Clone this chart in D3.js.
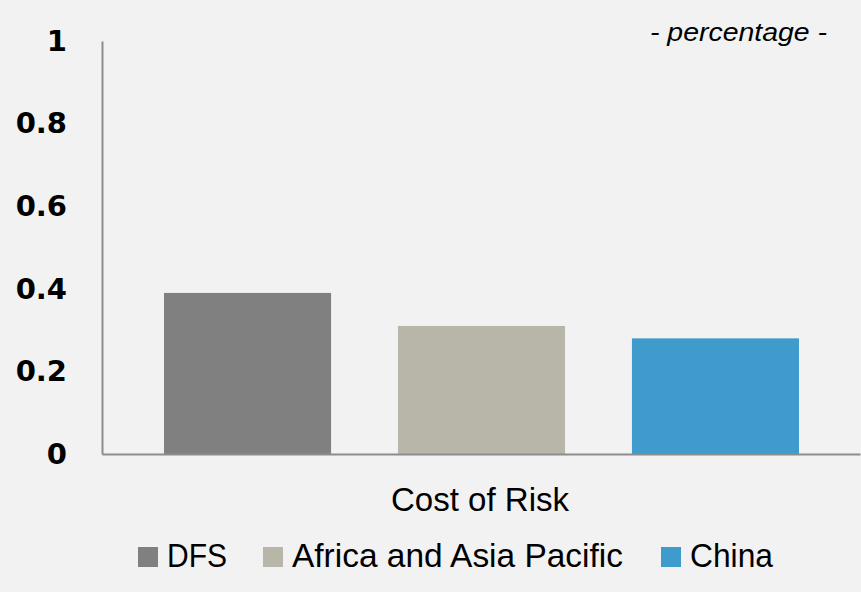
<!DOCTYPE html>
<html>
<head>
<meta charset="utf-8">
<title>Cost of Risk</title>
<style>
  body { margin: 0; background: #f2f2f2; }
  svg { display: block; }
</style>
</head>
<body>
<script src="https://d3js.org/d3.v7.min.js"></script>
<script>
// data
const categories = ['Cost of Risk'];
const series = ['DFS', 'Africa and Asia Pacific', 'China'];
const values = [0.39, 0.31, 0.28];
const colors = ['#808080', '#b8b6a9', '#3f9bcb'];
const yTicks = [0, 0.2, 0.4, 0.6, 0.8, 1];

const W = 861, H = 592;
const margin = {top: 41, right: 1, bottom: 138, left: 102};
const width = W - margin.left - margin.right;
const height = H - margin.top - margin.bottom;
const sans = '"Liberation Sans", Arial, sans-serif';

const svg = d3.select('body').append('svg').attr('width', W).attr('height', H);
svg.append('rect').attr('width', W).attr('height', H).attr('fill', '#f2f2f2');

const g = svg.append('g').attr('transform', `translate(${margin.left},${margin.top})`);

const x0 = d3.scaleBand().domain(categories).range([0, width]);
const x1 = d3.scaleBand().domain(series).range([62, 697]).paddingInner(0.286).paddingOuter(0);
const y = d3.scaleLinear().domain([0, 1]).range([height, 0]);

// bars
g.selectAll('rect.bar').data(series).enter().append('rect')
  .attr('class', 'bar')
  .attr('x', d => x0(categories[0]) + x1(d))
  .attr('width', x1.bandwidth())
  .attr('y', (d, i) => y(values[i]))
  .attr('height', (d, i) => height - y(values[i]))
  .attr('fill', (d, i) => colors[i]);

// y axis
const yAxis = g.append('g').call(d3.axisLeft(y).tickValues(yTicks).tickSize(0).tickPadding(35).tickFormat(d => d));
yAxis.select('.domain').attr('stroke', '#8c8c8c').attr('stroke-width', 2);
yAxis.selectAll('text')
  .attr('font-family', '"DejaVu Sans", sans-serif')
  .attr('font-weight', 'bold')
  .attr('font-size', 29)
  .attr('fill', '#000');

// x axis
const xAxis = g.append('g').attr('transform', `translate(0,${height})`)
  .call(d3.axisBottom(x0).tickSize(0).tickPadding(0));
xAxis.select('.domain').attr('stroke', '#8c8c8c').attr('stroke-width', 2);
xAxis.selectAll('text')
  .attr('x', -1)
  .attr('y', 57)
  .attr('dy', 0)
  .attr('font-family', sans)
  .attr('font-size', 34)
  .attr('textLength', 178)
  .attr('lengthAdjust', 'spacingAndGlyphs')
  .attr('fill', '#000');

// unit note
svg.append('text')
  .attr('x', 650).attr('y', 41)
  .attr('font-family', sans)
  .attr('font-style', 'italic')
  .attr('font-size', 26)
  .attr('textLength', 177)
  .attr('lengthAdjust', 'spacingAndGlyphs')
  .attr('fill', '#000')
  .text('- percentage -');

// legend
const legendX = [138, 263, 661];
const legendW = [60, 331, 83];
const legend = svg.append('g');
series.forEach((s, i) => {
  legend.append('rect')
    .attr('x', legendX[i]).attr('y', 547)
    .attr('width', 20).attr('height', 20)
    .attr('fill', colors[i]);
  legend.append('text')
    .attr('x', legendX[i] + 29).attr('y', 567)
    .attr('font-family', sans)
    .attr('font-size', 33)
    .attr('textLength', legendW[i])
    .attr('lengthAdjust', 'spacingAndGlyphs')
    .attr('fill', '#000')
    .text(s);
});
</script>
</body>
</html>
